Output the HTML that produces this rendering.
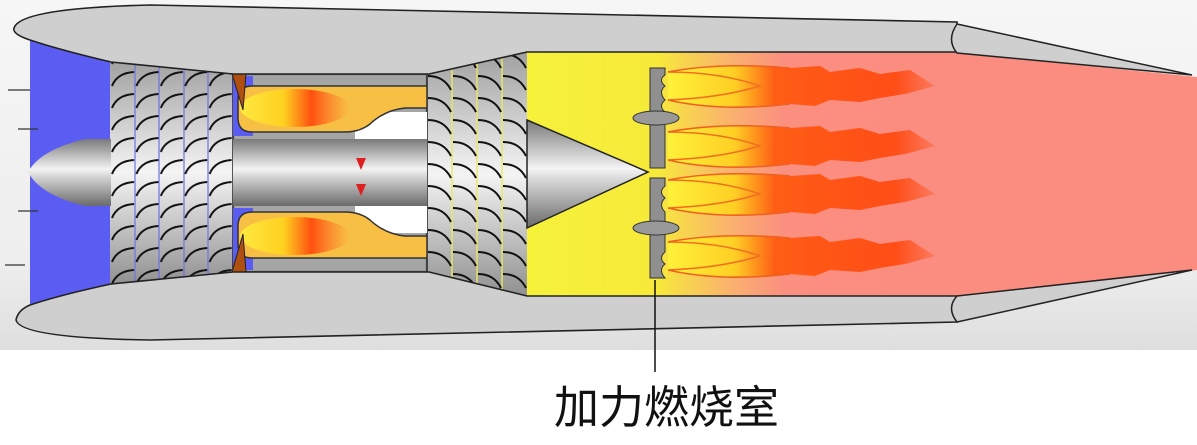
<!DOCTYPE html>
<html><head><meta charset="utf-8"><style>
html,body{margin:0;padding:0;background:#fff;}
svg{display:block}
</style></head><body>
<svg width="1197" height="445" viewBox="0 0 1197 445" xmlns="http://www.w3.org/2000/svg">
<defs>
<linearGradient id="bg" x1="0" y1="0" x2="0" y2="1">
<stop offset="0" stop-color="#f6f6f6"/><stop offset="0.75" stop-color="#eeeeee"/><stop offset="1" stop-color="#dedede"/>
</linearGradient>
<linearGradient id="metal" x1="0" y1="0" x2="0" y2="1">
<stop offset="0" stop-color="#7a7a7a"/><stop offset="0.45" stop-color="#f4f4f4"/><stop offset="0.55" stop-color="#d8d8d8"/><stop offset="1" stop-color="#6a6a6a"/>
</linearGradient>
<linearGradient id="blade" x1="0" y1="0" x2="0" y2="1">
<stop offset="0" stop-color="#a0a0a0"/><stop offset="0.5" stop-color="#f4f4f4"/><stop offset="1" stop-color="#909090"/>
</linearGradient>
<linearGradient id="ab" x1="0" y1="0" x2="1" y2="0">
<stop offset="0" stop-color="#f6f23a"/><stop offset="0.3" stop-color="#f7ea3a"/><stop offset="0.48" stop-color="#fab070"/><stop offset="0.6" stop-color="#fb8f80"/><stop offset="1" stop-color="#fb8c80"/>
</linearGradient>
<linearGradient id="flame" x1="0" y1="0" x2="1" y2="0">
<stop offset="0" stop-color="#fff23a"/><stop offset="0.25" stop-color="#ffd020"/><stop offset="0.4" stop-color="#ff5a10"/><stop offset="0.85" stop-color="#ff4a10"/><stop offset="1" stop-color="#ff4a10" stop-opacity="0.3"/>
</linearGradient>
<linearGradient id="cflame" x1="0" y1="0" x2="1" y2="0">
<stop offset="0" stop-color="#ffe840"/><stop offset="0.4" stop-color="#ffd020"/><stop offset="0.65" stop-color="#ff5010"/><stop offset="1" stop-color="#ff7020" stop-opacity="0"/>
</linearGradient>
<pattern id="bl" x="111" y="2" width="24.4" height="22" patternUnits="userSpaceOnUse">
<path d="M1,18 Q6,5 23,4" stroke="#111" stroke-width="2" fill="none"/>
</pattern>
<pattern id="bl2" x="427" y="6" width="25" height="22" patternUnits="userSpaceOnUse">
<path d="M1,4 Q17,4 24,18" stroke="#111" stroke-width="2" fill="none"/>
</pattern>
</defs>
<rect width="1197" height="350" fill="url(#bg)"/>
<rect y="350" width="1197" height="95" fill="#fff"/>

<rect x="30" y="35" width="82" height="272" fill="#5b5cf2"/>
<g stroke="#333" stroke-width="1.3">
<line x1="8" y1="90" x2="30" y2="90"/><line x1="18" y1="129" x2="38" y2="129"/>
<line x1="18" y1="211" x2="38" y2="211"/><line x1="5" y1="265" x2="25" y2="265"/>
</g>

<polygon points="950,52 1197,77 1197,270 950,297" fill="#fb8c80"/>
<rect x="527" y="52" width="430" height="244" fill="url(#ab)"/>

<polygon points="110,60 233,74 233,272 110,285" fill="url(#blade)"/>
<g stroke="#7070e0" stroke-width="1.2">
<line x1="135" y1="62" x2="135" y2="283"/><line x1="159" y1="65" x2="159" y2="281"/><line x1="184" y1="68" x2="184" y2="278"/><line x1="208" y1="71" x2="208" y2="275"/>
</g>
<polygon points="110,60 233,74 233,272 110,285" fill="url(#bl)"/>
<polygon points="427,74 527,52 527,296 427,272" fill="url(#blade)"/>
<g stroke="#e8e860" stroke-width="1.4">
<line x1="452" y1="69" x2="452" y2="278"/><line x1="477" y1="63" x2="477" y2="284"/><line x1="502" y1="58" x2="502" y2="290"/>
</g>
<polygon points="427,74 527,52 527,296 427,272" fill="url(#bl2)"/>

<rect x="233" y="74" width="194" height="198" fill="#9a9a9a" stroke="#222" stroke-width="1.5"/>
<rect x="235" y="76" width="190" height="194" fill="#a5a5a5"/>
<path d="M355,112 L427,112 L427,139 L355,139 Z" fill="#fff"/>
<path d="M355,206 L427,206 L427,233 L355,233 Z" fill="#fff"/>
<path d="M233,76 h20 v60 h-20z" fill="#5b5cf2"/>
<path d="M233,208 h20 v62 h-20z" fill="#5b5cf2"/>
<path d="M252,86 L427,86 L427,108 L405,108 Q385,110 370,124 Q360,132 345,132 L252,132 Q238,132 238,118 L238,100 Q238,86 252,86 Z" fill="#f8bf45" stroke="#333" stroke-width="1.5"/>
<path d="M252,258 L427,258 L427,236 L405,236 Q385,234 370,220 Q360,212 345,212 L252,212 Q238,212 238,226 L238,244 Q238,258 252,258 Z" fill="#f8bf45" stroke="#333" stroke-width="1.5"/>
<ellipse cx="295" cy="108" rx="55" ry="19" fill="url(#cflame)"/>
<ellipse cx="295" cy="236" rx="55" ry="19" fill="url(#cflame)"/>
<polygon points="232,74 246,74 243,110" fill="#b05010" stroke="#222" stroke-width="1"/>
<polygon points="232,272 246,272 243,234" fill="#b05010" stroke="#222" stroke-width="1"/>

<rect x="233" y="139" width="194" height="67" fill="url(#metal)"/>
<polygon points="356,158 366,158 361,170" fill="#e02020"/>
<polygon points="356,184 366,184 361,196" fill="#e02020"/>
<path d="M111,139 L111,206 L85,206 Q40,195 28,172 Q40,150 85,139 Z" fill="url(#metal)"/>
<path d="M527,120 L648,172 L527,228 Z" fill="url(#metal)" stroke="#222" stroke-width="1.5"/>

<path d="M14,28 Q20,8 150,5 L957,22 L957,52 L527,52 L429,74 L233,74 L111,62 Q60,50 30,40 Q12,34 14,28 Z" fill="#cfcfcf" stroke="#222" stroke-width="1.6"/>
<path d="M527,296 L957,296 L957,322 L150,340 Q20,338 16,320 Q18,310 30,305 Q60,295 111,284 L233,272 L429,272 Z" fill="#cfcfcf" stroke="#222" stroke-width="1.6"/>
<path d="M957,24 L1192,75 L957,53 Q946,40 957,24 Z" fill="#cfcfcf" stroke="#222" stroke-width="1.5"/>
<path d="M957,296 L1192,270 L957,322 Q946,308 957,296 Z" fill="#cfcfcf" stroke="#222" stroke-width="1.5"/>

<g id="fl">
<path d="M668,72 Q720,62 790,68 L820,66 L830,72 L860,68 L880,74 L910,70 L935,86 L905,94 L880,98 L860,102 L830,100 L815,106 L790,104 Q720,112 668,100 Z" fill="url(#flame)" opacity="0.95"/>
<path d="M668,72 Q720,72 760,86 Q720,98 668,100" fill="none" stroke="#f07020" stroke-width="1.6"/>
<path d="M668,72 Q720,62 790,68 M668,100 Q720,112 790,104" fill="none" stroke="#f06020" stroke-width="1.6"/>
</g>
<use href="#fl" y="60"/>
<use href="#fl" y="108"/>
<use href="#fl" y="170"/>

<path d="M650,68 L665,68 L665,75 Q658,80 665,86 Q658,92 665,100 Q658,106 665,112 L665,168 L650,168 Z" fill="#8f8f8f" stroke="#333" stroke-width="1"/>
<path d="M650,178 L665,178 L665,186 Q658,192 665,198 Q658,205 665,212 L665,252 Q658,258 665,264 Q658,270 665,278 L650,278 Z" fill="#8f8f8f" stroke="#333" stroke-width="1"/>
<ellipse cx="656" cy="118" rx="23" ry="7" fill="#999" stroke="#333" stroke-width="1"/>
<ellipse cx="656" cy="228" rx="23" ry="7" fill="#999" stroke="#333" stroke-width="1"/>

<line x1="655" y1="280" x2="655" y2="372" stroke="#111" stroke-width="1.5"/>
<text x="554" y="423" font-family="'Liberation Sans','Noto Sans CJK SC',sans-serif" font-size="45" fill="#111">加力燃烧室</text>
</svg>
</body></html>
